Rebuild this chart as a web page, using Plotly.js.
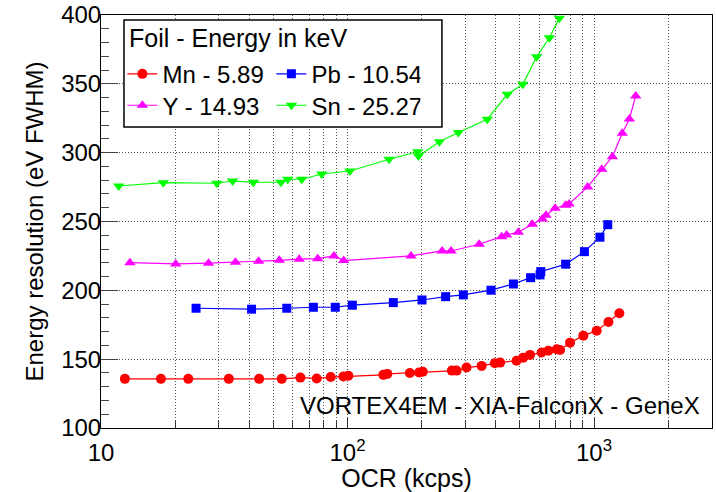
<!DOCTYPE html>
<html>
<head>
<meta charset="utf-8">
<script src="https://cdn.plot.ly/plotly-3.0.1.min.js"></script>
<style>
  html, body { margin: 0; padding: 0; background: #fff; }
  #chart { width: 716px; height: 492px; }
</style>
</head>
<body>
<div id="chart"></div>
<script>
// Energy resolution vs output count rate for four fluorescence foils
const mnOcr = [12.5, 17.5, 22.6, 33.0, 43.8, 54.1, 64.4, 75.0, 85.5, 96.2, 100.8, 139.7, 145, 179, 195, 202,
  265, 277, 304, 350, 396, 416, 485, 516, 550, 613, 653, 706, 728, 799, 905, 1025, 1144, 1267];
const mnRes = [135.7, 135.7, 135.7, 135.7, 135.7, 135.7, 136.6, 136.0, 137.0, 137.4, 138.0, 138.6, 139.3, 140.0, 140.3, 140.8,
  141.7, 141.7, 143.9, 145.1, 147.0, 147.5, 148.9, 151.1, 153.1, 154.8, 156.2, 157.2, 156.7, 162.0, 167.1, 170.7, 177.0, 183.4];

const pbOcr = [24.3, 40.8, 56.7, 72.7, 89.2, 104.6, 153.4, 200.5, 250, 295, 382, 471, 553, 604, 608, 767, 914, 1057, 1137];
const pbRes = [187.0, 186.3, 187.0, 187.7, 187.7, 189.2, 191.1, 193.0, 195.4, 196.7, 200.1, 204.6, 209.2, 211.2, 213.6, 219.0, 228.1, 238.6, 247.7];

const yOcr = [13.1, 20.1, 27.3, 35.1, 43.6, 52.9, 63.7, 75.7, 88.1, 96.5, 181, 242, 263, 342, 422, 442, 493, 562, 617, 639,
  695, 767, 792, 942, 1075, 1187, 1302, 1391, 1476];
const yRes = [220.1, 219.2, 219.7, 220.4, 221.1, 221.8, 222.6, 223.0, 225.0, 221.6, 225.0, 228.6, 228.6, 233.5, 239.0, 240.2, 242.2, 248.0, 251.9, 254.5,
  259.6, 261.8, 262.7, 275.1, 287.9, 297.1, 314.1, 324.5, 341.2];

const snOcr = [11.8, 17.9, 29.5, 34.2, 41.5, 53.7, 57.2, 65.2, 78.6, 102.3, 147.4, 192.6, 194, 236, 281.6, 369, 445, 514, 585, 659, 723];
const snRes = [275.8, 278.2, 277.8, 279.4, 278.5, 278.5, 280.7, 280.7, 284.5, 286.7, 295.2, 300.7, 297.6, 308.0, 314.6, 324.3, 342.4, 349.7, 369.7, 383.5, 397.6];

const seriesNames = ['Mn - 5.89', 'Pb - 10.54', 'Y - 14.93', 'Sn - 25.27'];
const legendTitle = 'Foil - Energy in keV';
const xTickVals = [10, 100, 1000];
const xTickText = ['10', '10<sup>2</sup>', '10<sup>3</sup>'];
const xMinorVals = [20, 30, 40, 50, 60, 70, 80, 90, 200, 300, 400, 500, 600, 700, 800, 900, 2000, 3000];
const xTitle = 'OCR (kcps)';
const yTitle = 'Energy resolution (eV FWHM)';
const caption = 'VORTEX4EM - XIA-FalconX - GeneX';

const FONT = 'Liberation Sans, Arial, Helvetica, sans-serif';
const GRID = '#555';
const GRIDDASH = '1px,2px';

function series(x, y, name, color, symbol, size, legend) {
  return {
    x: x, y: y, name: name, type: 'scatter', mode: 'lines+markers',
    line: { color: color, width: 1.2 },
    marker: { color: color, symbol: symbol, size: size },
    legend: legend
  };
}

const traces = [
  series(mnOcr, mnRes, seriesNames[0], '#ff0000', 'circle', 10, 'legend'),
  series(pbOcr, pbRes, seriesNames[1], '#0000ff', 'square', 9, 'legend'),
  series(yOcr, yRes, seriesNames[2], '#ff00ff', 'triangle-up', 10, 'legend2'),
  series(snOcr, snRes, seriesNames[3], '#00ff00', 'triangle-down', 10, 'legend2')
];

const titleFont = { family: FONT, size: 25, color: '#000' };
const legendFont = { family: FONT, size: 24, color: '#000' };

const layout = {
  width: 716, height: 492,
  margin: { l: 101, r: 4, t: 15, b: 64 },
  paper_bgcolor: '#fff', plot_bgcolor: '#fff',
  font: { family: FONT, size: 24, color: '#000' },
  showlegend: true,
  xaxis: {
    type: 'log', range: [1, Math.log10(3010)],
    tickmode: 'array', tickvals: xTickVals, ticktext: xTickText,
    ticks: 'inside', ticklen: 10, tickcolor: '#333',
    ticklabelstandoff: 3,
    showgrid: true, gridcolor: GRID, griddash: GRIDDASH, gridwidth: 1,
    minor: { tickmode: 'array', tickvals: xMinorVals, ticks: 'inside', ticklen: 7, tickcolor: '#333',
             showgrid: true, gridcolor: GRID, griddash: GRIDDASH, gridwidth: 1 },
    showline: true, linecolor: '#000', linewidth: 1, mirror: true,
    zeroline: false,
    tickfont: { family: FONT, size: 24 },
    title: { text: xTitle, font: { family: FONT, size: 25 }, standoff: 0 }
  },
  yaxis: {
    range: [100, 400], dtick: 50, tick0: 100,
    ticks: 'inside', ticklen: 17, tickcolor: '#444',
    ticklabelstandoff: -6,
    showgrid: true, gridcolor: GRID, griddash: GRIDDASH, gridwidth: 1,
    minor: { dtick: 10, ticks: 'inside', ticklen: 8, tickcolor: '#444', showgrid: false },
    showline: true, linecolor: '#000', linewidth: 1, mirror: true,
    zeroline: false,
    tickfont: { family: FONT, size: 24 },
    title: { text: yTitle, font: { family: FONT, size: 24 }, standoff: 10 }
  },
  legend: {
    orientation: 'h', x: 0.035, xanchor: 'left', y: 0.911, yanchor: 'top',
    bgcolor: 'rgba(0,0,0,0)', borderwidth: 0,
    font: legendFont, entrywidth: 104, itemwidth: 30
  },
  legend2: {
    orientation: 'h', x: 0.035, xanchor: 'left', y: 0.835, yanchor: 'top',
    bgcolor: 'rgba(0,0,0,0)', borderwidth: 0,
    font: legendFont, entrywidth: 104, itemwidth: 30
  },
  shapes: [{
    type: 'rect', xref: 'paper', yref: 'paper', layer: 'above',
    x0: 0.0376, x1: 0.558, y0: 0.7288, y1: 0.9879,
    fillcolor: '#fff', line: { color: '#000', width: 1.5 }
  }],
  annotations: [
    {
      text: legendTitle, xref: 'paper', yref: 'paper', x: 0.0426, y: 0.944,
      xanchor: 'left', yanchor: 'middle', showarrow: false,
      font: titleFont
    },
    {
      text: caption, xref: 'paper', yref: 'paper', x: 0.983, y: 0.055,
      xanchor: 'right', yanchor: 'middle', showarrow: false,
      font: { family: FONT, size: 24, color: '#000' }
    }
  ]
};

Plotly.newPlot('chart', traces, layout, { staticPlot: true, displayModeBar: false });
</script>
</body>
</html>
